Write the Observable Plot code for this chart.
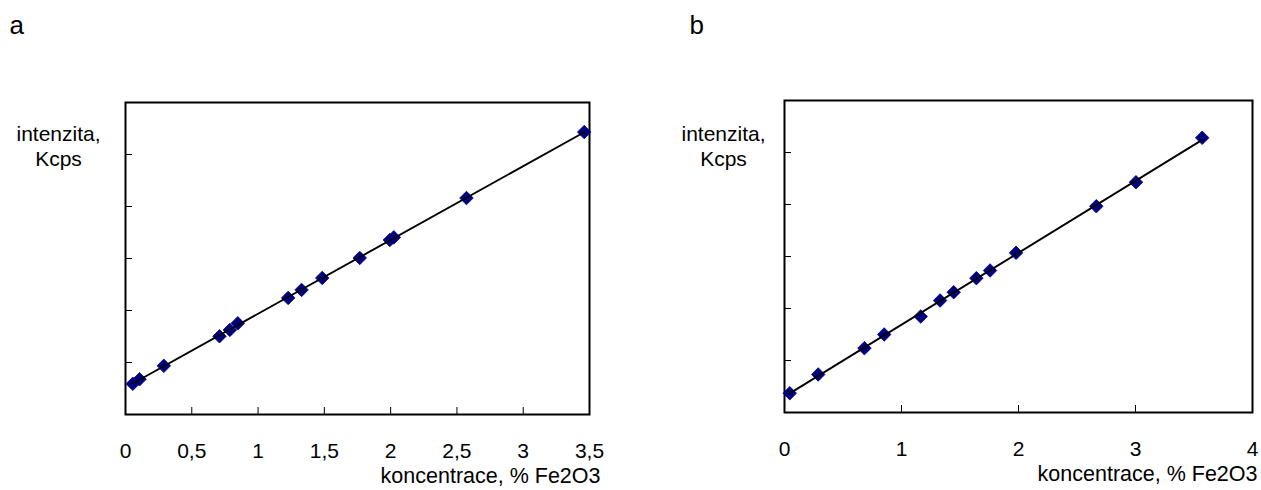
<!DOCTYPE html>
<html><head><meta charset="utf-8">
<script src="https://cdn.jsdelivr.net/npm/d3@7"></script>
<script src="https://cdn.jsdelivr.net/npm/@observablehq/plot@0.6"></script>
<style>
html,body{margin:0;padding:0;background:#fff;}
#wrap{position:relative;width:1261px;height:490px;overflow:hidden;background:#fff;}
#wrap > div{position:absolute;top:0;}
</style></head><body>
<div id="wrap"><div id="ca" style="left:0px"></div><div id="cb" style="left:630px"></div></div>
<script>
// Panel a: concentration (% Fe2O3) and intensity (arbitrary units, axis unlabelled)
const concA = [0.055, 0.106, 0.289, 0.709, 0.787, 0.847, 1.227, 1.328, 1.484, 1.767, 1.994, 2.024, 2.572, 3.460];
const intA  = [5.90, 6.78, 9.36, 15.04, 16.27, 17.54, 22.42, 23.96, 26.26, 30.11, 33.56, 34.06, 41.63, 54.31];
// Panel b
const concB = [0.045, 0.288, 0.683, 0.852, 1.164, 1.330, 1.446, 1.640, 1.757, 1.979, 2.665, 3.004, 3.570];
const intB  = [3.71, 7.31, 12.37, 15.00, 18.46, 21.54, 23.13, 25.83, 27.31, 30.71, 39.67, 44.29, 52.83];

const xTicksA = [0, 0.5, 1, 1.5, 2, 2.5, 3, 3.5];
const xTicksB = [0, 1, 2, 3, 4];
const yTicks = [10, 20, 30, 40, 50];
const xLabel = "koncentrace, % Fe2O3";
const yLabel = "intenzita,\nKcps";

const FONT = "'Liberation Sans', Arial, Helvetica, sans-serif";
const fmt = d => String(d).replace(".", ",");

function panel(o) {
  const data = o.conc.map((c, i) => ({c, v: o.intens[i]}));
  return Plot.plot({
    width: o.width,
    height: 490,
    marginLeft: o.ml, marginRight: o.mr, marginTop: o.mt, marginBottom: o.mb,
    style: {fontFamily: FONT, fontSize: "21px", background: "white", overflow: "visible", color: "black"},
    x: {domain: o.xDomain},
    y: {domain: [0, 60]},
    marks: [
      Plot.frame({stroke: "black", strokeWidth: 2}),
      Plot.axisX({ticks: o.xTicks, tickSize: -7, tickPadding: 36, tickFormat: fmt, label: null, fontSize: 21, stroke: "black", strokeWidth: 1}),
      Plot.axisY({ticks: yTicks, tickSize: -7, tickFormat: () => "", label: null, stroke: "black", strokeWidth: 1}),
      Plot.dot(data, {x: "c", y: "v", symbol: "diamond2", r: 6.1, fill: "#000080", stroke: "#000080", strokeWidth: 0.8}),
      Plot.linearRegressionY(data, {x: "c", y: "v", stroke: "black", strokeWidth: 1.9, ci: 0}),
      Plot.text([xLabel], {text: d => d, frameAnchor: "bottom-right", dx: o.xlDx, dy: 68, textAnchor: "end", lineAnchor: "bottom", fontSize: 21.5, fill: "black"}),
      Plot.text([yLabel], {text: d => d, frameAnchor: "top-left", dx: o.ylDx, dy: o.ylDy, textAnchor: "middle", lineAnchor: "bottom", lineHeight: 1.19, fontSize: 21, fill: "black"}),
      Plot.text([o.title], {text: d => d, frameAnchor: "top-left", dx: o.tDx, dy: o.tDy, textAnchor: "start", lineAnchor: "bottom", fontSize: 26, fill: "black"})
    ]
  });
}

document.getElementById("ca").append(panel({
  conc: concA, intens: intA, xTicks: xTicksA, xDomain: [0, 3.5],
  width: 630, ml: 125, mr: 41, mt: 102, mb: 76,
  xlDx: 11, ylDx: -67, ylDy: 63, title: "a", tDx: -116, tDy: -69
}));
document.getElementById("cb").append(panel({
  conc: concB, intens: intB, xTicks: xTicksB, xDomain: [0, 4],
  width: 631, ml: 154, mr: 9, mt: 100, mb: 78,
  xlDx: 5, ylDx: -61, ylDy: 65, title: "b", tDx: -95, tDy: -67
}));
</script>
</body></html>
